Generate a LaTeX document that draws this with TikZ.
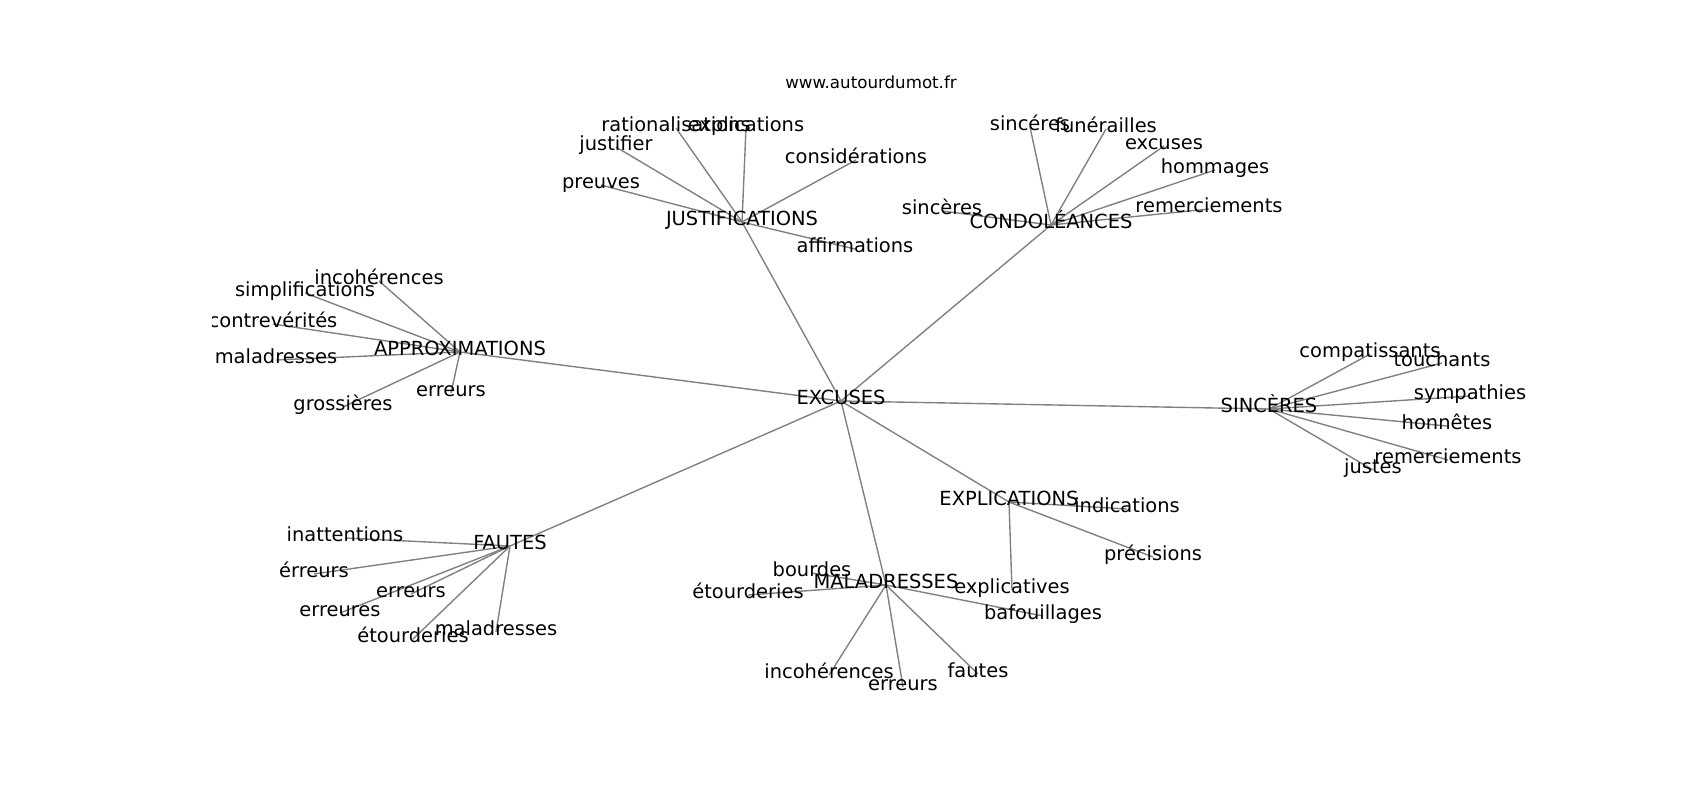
\documentclass[tikz,border=0pt]{standalone}
\usepackage{fontspec}
\setmainfont{DejaVu Sans}
\usepackage{tikz}
\usetikzlibrary{backgrounds}
\tikzstyle{word} = [inner sep=0pt, text height=0.76em, text depth=0.24em, font={\fontsize{14}{16}\selectfont}]
\tikzstyle{link} = [draw=black!50, line width=1pt]
\tikzstyle{heading} = [inner sep=0pt, anchor=base, font={\fontsize{12}{14}\selectfont}]

\begin{document}
\begin{tikzpicture}[x=0.72pt,y=-0.72pt]
        \useasboundingbox (0,0) rectangle (1700,800);
        \node[heading](title) at (871,88){www.autourdumot.fr};
        \begin{scope}
        \clip (212.5,96) rectangle (1530,712);
        \node[word](ex) at (841,401){EXCUSES};
        % justifications
        \node[word](just) at (742,222){JUSTIFICATIONS};
        \node[word](just1) at (676,128){rationalisations};
        \node[word](just2) at (746,128){explications};
        \node[word](just3) at (616,147){justifier};
        \node[word](just4) at (601,185){preuves};
        \node[word](just5) at (856,160){considérations};
        \node[word](just6) at (855,249){affirmations};
        % condoleances
        \node[word](cond) at (1051,225){CONDOLÉANCES};
        \node[word](cond1) at (1030,127){sincéres};
        \node[word](cond2) at (1106,129){funérailles};
        \node[word](cond3) at (1164,146){excuses};
        \node[word](cond4) at (1215,170){hommages};
        \node[word](cond5) at (1209,209){remerciements};
        \node[word](cond6) at (942,211){sincères};
        % approximations
        \node[word](appr) at (460,352){APPROXIMATIONS};
        \node[word](appr1) at (379,281){incohérences};
        \node[word](appr2) at (305,293){simplifications};
        \node[word](appr3) at (273,324){contrevérités};
        \node[word](appr4) at (276,360){maladresses};
        \node[word](appr5) at (451,393){erreurs};
        \node[word](appr6) at (343,407){grossières};
        % sinceres
        \node[word](sinc) at (1269,409){SINCÈRES};
        \node[word](sinc1) at (1370,354){compatissants};
        \node[word](sinc2) at (1442,363){touchants};
        \node[word](sinc3) at (1470,396){sympathies};
        \node[word](sinc4) at (1447,426){honnêtes};
        \node[word](sinc5) at (1448,460){remerciements};
        \node[word](sinc6) at (1373,470){justes};
        % explications
        \node[word](expl) at (1009,502){EXPLICATIONS};
        \node[word](expl1) at (1127,509){indications};
        \node[word](expl2) at (1153,557){précisions};
        \node[word](expl3) at (1012,590){explicatives};
        % maladresses
        \node[word](mal) at (886,585){MALADRESSES};
        \node[word](mal1) at (812,573){bourdes};
        \node[word](mal2) at (748,595){étourderies};
        \node[word](mal3) at (1043,616){bafouillages};
        \node[word](mal4) at (829,675){incohérences};
        \node[word](mal5) at (903,687){erreurs};
        \node[word](mal6) at (978,674){fautes};
        % fautes
        \node[word](faut) at (510,546){FAUTES};
        \node[word](faut1) at (345,538){inattentions};
        \node[word](faut2) at (314,574){érreurs};
        \node[word](faut3) at (411,594){erreurs};
        \node[word](faut4) at (340,613){erreures};
        \node[word](faut5) at (413,639){étourderies};
        \node[word](faut6) at (496,632){maladresses};
        \end{scope}
        \begin{pgfonlayer}{background}
        \foreach \h in {just,cond,appr,sinc,expl,mal,faut}
          \draw[link](ex.center)--(\h.center);
        \foreach \h/\n in {just/6,cond/6,appr/6,sinc/6,expl/3,mal/6,faut/6}
          \foreach \i in {1,...,\n}
            \draw[link](\h.center)--(\h\i.center);
        \end{pgfonlayer}
      \end{tikzpicture}
\end{document}
